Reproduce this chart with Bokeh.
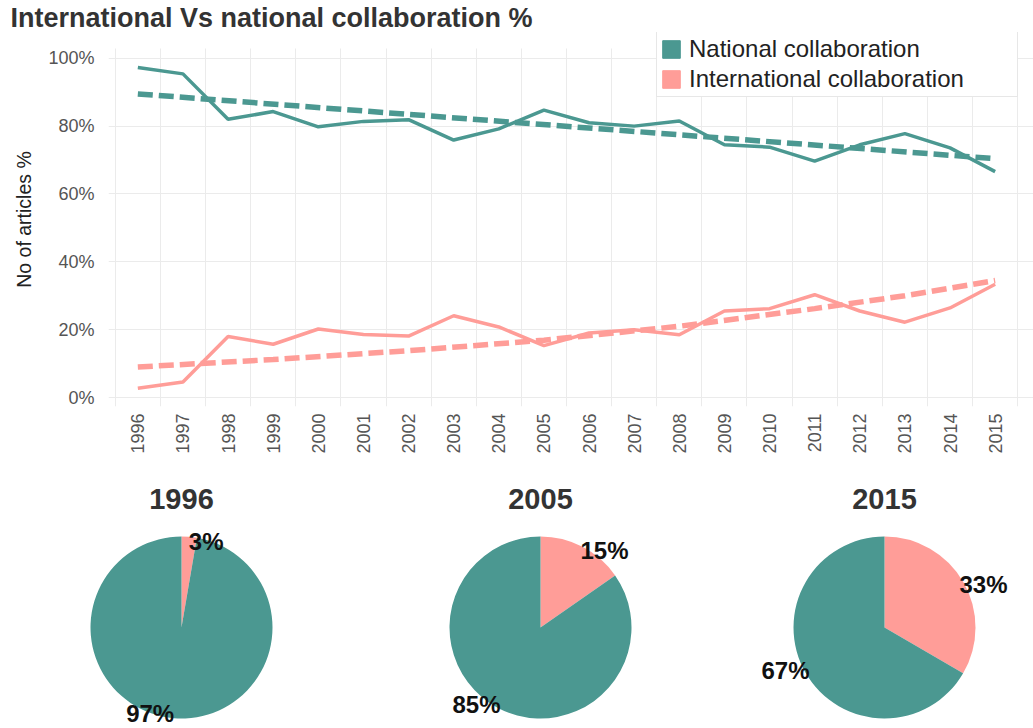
import math
from bokeh.plotting import figure
from bokeh.layouts import column, row
from bokeh.models import (Range1d, FixedTicker, PrintfTickFormatter, Legend,
                          LegendItem, ColumnDataSource)
from bokeh.core.properties import value
from bokeh.embed import file_html
from bokeh.resources import INLINE

# ---------------- data ----------------
years = list(range(1996, 2016))
national = [97.3, 95.4, 82.0, 84.3, 79.8, 81.4, 81.9, 75.9, 79.2, 84.7,
            81.0, 80.0, 81.5, 74.5, 73.8, 69.7, 74.5, 77.8, 73.6, 66.6]
international = [2.7, 4.6, 18.0, 15.7, 20.2, 18.6, 18.1, 24.1, 20.8, 15.3,
                 19.0, 20.0, 18.5, 25.5, 26.2, 30.3, 25.5, 22.2, 26.4, 33.4]
national_trend_years = [1996, 2015]
national_trend = [89.5, 70.4]
intl_trend_years = [1996, 1999, 2002, 2005, 2008, 2011, 2013, 2015]
intl_trend = [9.0, 11.2, 13.8, 16.9, 21.0, 26.2, 30.0, 34.5]
y_ticks = [0, 20, 40, 60, 80, 100]
series_names = ["National collaboration", "International collaboration"]
pie_years = [1996, 2005, 2015]
title_text = "International Vs national collaboration %"
y_label = "No of articles %"

# ---------------- style ----------------
TEAL = "#4B9891"
PINK = "#FF9D98"
GRID = "#EBEBEB"
FONT = "Liberation Sans"
W = 1033

# ---------------- line chart ----------------
LINE_H = 460
FRAME_LEFT = 108
FRAME_BOTTOM_PAD = 54
p = figure(width=W, height=LINE_H, output_backend="svg", toolbar_location=None,
           x_range=Range1d(1995.35, 2015.85), y_range=Range1d(-2.65, 107.6),
           min_border_left=FRAME_LEFT, min_border_right=0, min_border_top=0,
           min_border_bottom=FRAME_BOTTOM_PAD)
p.outline_line_color = None
p.background_fill_color = "white"

p.title.text = title_text
p.title.text_font = FONT
p.title.text_font_size = "27px"
p.title.text_font_style = "bold"
p.title.text_color = "#333333"
p.title.align = "left"
p.title.offset = 10 - FRAME_LEFT
p.title.standoff = 0

p.xaxis.ticker = FixedTicker(ticks=years)
p.xaxis.major_label_orientation = math.pi / 2
p.xaxis.major_label_text_font = FONT
p.xaxis.major_label_text_font_size = "18px"
p.xaxis.major_label_text_color = "#555555"
p.xaxis.major_label_standoff = 1
p.xaxis.axis_line_color = None
p.xaxis.major_tick_line_color = None
p.xaxis.minor_tick_line_color = None

p.yaxis.ticker = FixedTicker(ticks=y_ticks)
p.yaxis.formatter = PrintfTickFormatter(format="%d%%")
p.yaxis.major_label_text_font = FONT
p.yaxis.major_label_text_font_size = "18px"
p.yaxis.major_label_text_color = "#555555"
p.yaxis.major_label_standoff = 8
p.yaxis.axis_line_color = None
p.yaxis.major_tick_line_color = None
p.yaxis.minor_tick_line_color = None
p.yaxis.axis_label = y_label
p.yaxis.axis_label_text_font = FONT
p.yaxis.axis_label_text_font_size = "19.5px"
p.yaxis.axis_label_text_font_style = "normal"
p.yaxis.axis_label_text_color = "#222222"
p.yaxis.axis_label_standoff = 10

p.xgrid.ticker = FixedTicker(ticks=[y - 0.5 for y in years] + [years[-1] + 0.5])
p.xgrid.grid_line_color = GRID
p.ygrid.grid_line_color = GRID
xg = p.xgrid[0]
if "cross_bounds" in type(xg).properties():
    xg.cross_bounds = (-2.65, 102.9)

src = ColumnDataSource(dict(year=years, national=national, international=international))
p.line("year", "national", source=src, line_color=TEAL, line_width=3.5)
p.line("year", "international", source=src, line_color=PINK, line_width=3.5)
p.line(national_trend_years, national_trend, line_color=TEAL, line_width=5.5,
       line_dash="15 6")
p.line(intl_trend_years, intl_trend, line_color=PINK, line_width=5.5,
       line_dash="15 6")

# legend with square keys (renderers hold one undrawn NaN row so keys get colour)
nan = float("nan")
leg_nat = p.quad(left=[nan], right=[nan], top=[nan], bottom=[nan],
                 fill_color=TEAL, line_color=TEAL)
leg_int = p.quad(left=[nan], right=[nan], top=[nan], bottom=[nan],
                 fill_color=PINK, line_color=PINK)
legend = Legend(items=[LegendItem(label=series_names[0], renderers=[leg_nat]),
                       LegendItem(label=series_names[1], renderers=[leg_int])],
                location=(548, 309), glyph_width=22, glyph_height=22,
                label_height=24, label_width=325, label_standoff=7,
                label_text_font=FONT, label_text_font_size="24px",
                label_text_color="#222222", padding=3, spacing=2, margin=0,
                border_line_color="#D0D0D0", border_line_width=1.5,
                background_fill_color="white", background_fill_alpha=1.0)
p.add_layout(legend)

# ---------------- pies ----------------
R = 91
PIE_H = 728 - LINE_H
pie_widths = [344, 344, 345]
pie_left_px = [181, 196, 196]    # figure left edge -> pie centre
PIE_TOP_PX = 167                 # figure top edge -> pie centre
LABEL_R = 0.95 * R

pies = []
for k, yr in enumerate(pie_years):
    i = years.index(yr)
    fr = [international[i] / 100.0, national[i] / 100.0]
    cols = [PINK, TEAL]
    wdt = pie_widths[k]
    q = figure(width=wdt, height=PIE_H, output_backend="svg", toolbar_location=None,
               x_range=Range1d(-pie_left_px[k], wdt - pie_left_px[k]),
               y_range=Range1d(-(PIE_H - PIE_TOP_PX), PIE_TOP_PX),
               min_border=0, x_axis_location=None, y_axis_location=None,
               title_location=None)
    q.grid.visible = False
    q.outline_line_color = None
    starts, ends = [], []
    cum = 0.0
    for f in fr:
        starts.append(math.pi / 2 - cum * 2 * math.pi)
        ends.append(math.pi / 2 - (cum + f) * 2 * math.pi)
        cum += f
    q.wedge(x=[0, 0], y=[0, 0], radius=R, start_angle=starts, end_angle=ends,
            direction="clock", fill_color=cols, line_color=None)
    q.text(x=[0], y=[R + 38], text=[str(yr)], text_align="center",
           text_baseline="middle", text_font=value(FONT), text_font_style="bold",
           text_font_size="29px", text_color="#333333")
    cum = 0.0
    for f in fr:
        mid = math.pi / 2 - (cum + f / 2) * 2 * math.pi
        cum += f
        lx, ly = LABEL_R * math.cos(mid), LABEL_R * math.sin(mid)
        q.text(x=[lx], y=[ly], text=[f"{round(f * 100)}%"],
               text_align="left" if math.cos(mid) >= 0 else "right",
               text_baseline="middle", text_font=value(FONT),
               text_font_style="bold", text_font_size="24px", text_color="#111111")
    pies.append(q)

layout = column(p, row(*pies, spacing=0), spacing=0)
open("out.html", "w").write(file_html(layout, INLINE))
